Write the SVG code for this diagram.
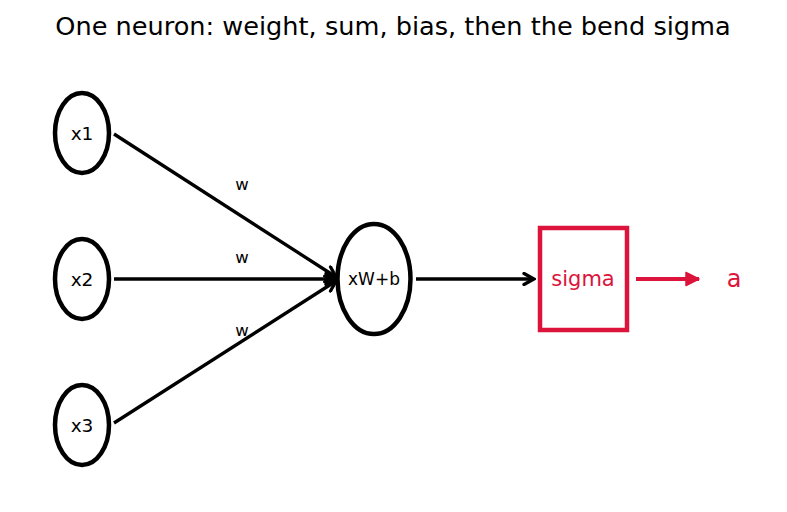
<svg xmlns="http://www.w3.org/2000/svg" width="787" height="512" viewBox="0 0 787 512">
  <defs>
    <style>
      text { font-family: "DejaVu Sans", "Liberation Sans", sans-serif; text-anchor: middle; dominant-baseline: central; }
      .node { fill: none; stroke: #000; stroke-width: 4.5; }
      .edge { fill: none; stroke: #000; stroke-width: 3.3; }
      .red { fill: none; stroke: #dc143c; stroke-width: 4.5; }
      .lbl { font-size: 18.5px; fill: #000; }
      .wl { font-size: 16.5px; fill: #000; }
    </style>
    <marker id="head" viewBox="-12 -7 14 14" markerWidth="14" markerHeight="14" refX="0" refY="0" orient="auto" markerUnits="userSpaceOnUse">
      <path d="M-10,-5.5 L0,0 L-10,5.5" fill="none" stroke="#000" stroke-width="3.3" stroke-linecap="round" stroke-linejoin="miter"/>
    </marker>
    <marker id="headRed" viewBox="-16 -9 18 18" markerWidth="18" markerHeight="18" refX="0" refY="0" orient="auto" markerUnits="userSpaceOnUse">
      <path d="M-13,-6.5 L0,0 L-13,6.5 Z" fill="#dc143c" stroke="#dc143c" stroke-width="1.5" stroke-linejoin="round"/>
    </marker>
  </defs>
  <rect width="787" height="512" fill="#fff"/>
  <text x="393" y="26" font-size="25.6" fill="#000">One neuron: weight, sum, bias, then the bend sigma</text>

  <g id="connectors">
    <line class="edge" x1="114" y1="134" x2="336" y2="277" marker-end="url(#head)"/>
    <line class="edge" x1="114" y1="279" x2="336" y2="279" marker-end="url(#head)"/>
    <line class="edge" x1="114" y1="423" x2="336" y2="281" marker-end="url(#head)"/>
    <line class="edge" x1="416" y1="279" x2="534" y2="279" marker-end="url(#head)"/>
    <line x1="636" y1="279" x2="699" y2="279" stroke="#dc143c" stroke-width="4" marker-end="url(#headRed)"/>
    <text class="wl" x="242" y="184">w</text>
    <text class="wl" x="242" y="257">w</text>
    <text class="wl" x="242" y="330">w</text>
  </g>

  <g id="x1">
    <ellipse class="node" cx="82" cy="133" rx="27" ry="40"/>
    <text class="lbl" x="82" y="133">x1</text>
  </g>
  <g id="x2">
    <ellipse class="node" cx="82" cy="279" rx="27" ry="40"/>
    <text class="lbl" x="82" y="279">x2</text>
  </g>
  <g id="x3">
    <ellipse class="node" cx="82" cy="425" rx="27" ry="40"/>
    <text class="lbl" x="82" y="425">x3</text>
  </g>
  <g id="sum">
    <ellipse class="node" cx="374" cy="279" rx="36.5" ry="55"/>
    <text x="374" y="279" font-size="17" fill="#000">xW+b</text>
  </g>
  <g id="sigma">
    <rect class="red" x="540" y="228" width="87" height="102"/>
    <text x="583" y="279" font-size="21" fill="#dc143c">sigma</text>
  </g>
  <g id="a">
    <text x="734" y="279" font-size="24" fill="#dc143c">a</text>
  </g>
</svg>
